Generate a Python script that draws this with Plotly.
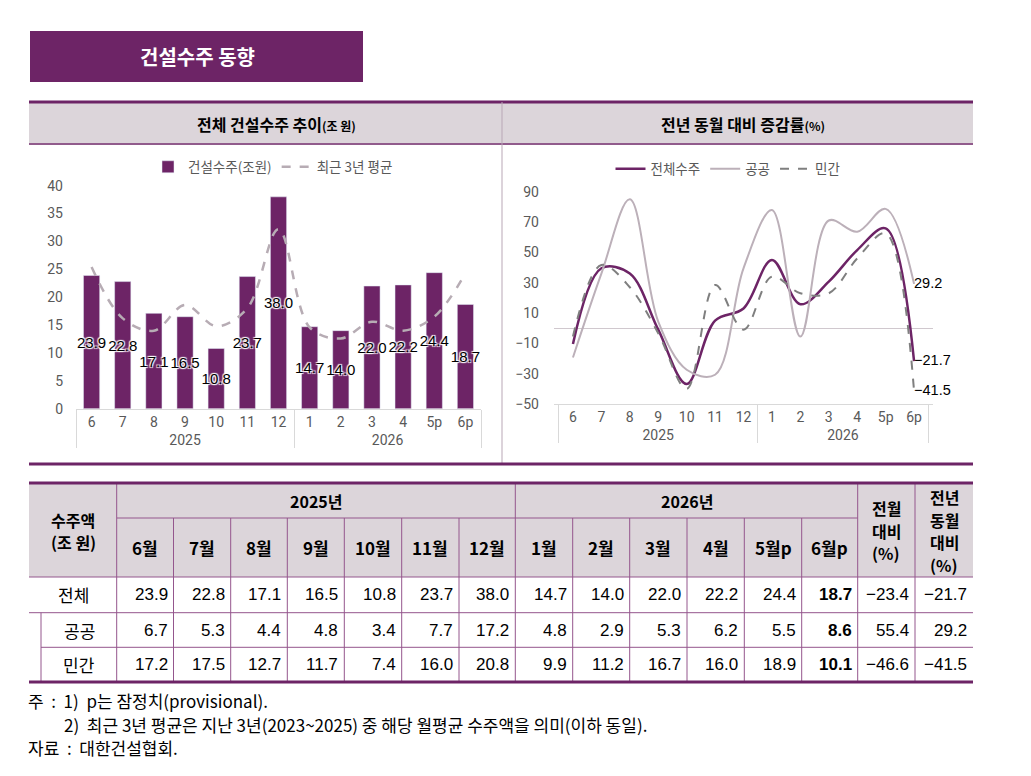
import plotly.graph_objects as go

# --- chart data ---
years = ['2025'] * 7 + ['2026'] * 6
months = ['6', '7', '8', '9', '10', '11', '12', '1', '2', '3', '4', '5p', '6p']

total = [23.9, 22.8, 17.1, 16.5, 10.8, 23.7, 38.0, 14.7, 14.0, 22.0, 22.2, 24.4, 18.7]
avg_3y = [25.4, 16.2, 14.0, 18.6, 14.8, 18.0, 32.2, 14.6, 12.6, 15.6, 14.0, 16.5, 24.3]

yoy_total = [-10.5, 39.5, 36.0, -1.0, -36.8, 5.0, 13.0, 45.0, 15.8, 30.7, 51.5, 65.8, -21.7]
yoy_public = [-19.3, 36.0, 85.0, 4.4, -27.4, -30.7, 39.5, 78.0, -5.5, 71.0, 63.6, 78.7, 29.2]
yoy_private = [-5.5, 41.7, 27.0, -3.3, -40.0, 28.5, -1.0, 34.0, 23.0, 23.0, 46.0, 62.5, -41.5]

# --- table data ---
table_months_2025 = ['6월', '7월', '8월', '9월', '10월', '11월', '12월']
table_months_2026 = ['1월', '2월', '3월', '4월', '5월p', '6월p']
row_labels = ['전체', '공공', '민간']
public = [6.7, 5.3, 4.4, 4.8, 3.4, 7.7, 17.2, 4.8, 2.9, 5.3, 6.2, 5.5, 8.6]
private = [17.2, 17.5, 12.7, 11.7, 7.4, 16.0, 20.8, 9.9, 11.2, 16.7, 16.0, 18.9, 10.1]
mom_change = [-23.4, 55.4, -46.6]
yoy_change = [-21.7, 29.2, -41.5]

W, H = 1031, 776
OX, OY = 8, 8  # page offset of the plot div
PURPLE = '#6d2466'
HEADER_BG = '#dcd5da'
GRID = '#94568d'
KR = 'Noto Sans CJK KR'
NUM = 'Liberation Sans, Noto Sans CJK KR'
SP = '\u00a0'


def px(x):
    return (x - OX) / W


def py(y):
    return 1 - (y - OY) / H


def fmt(v):
    return f'{v:.1f}'.replace('-', '\u2212')


fig = go.Figure()

# left chart: bars + 3-year average
fig.add_trace(go.Bar(
    x=[years, months], y=total, name='건설수주(조원)',
    marker_color=PURPLE, texttemplate='%{y:.1f}', textposition='inside',
    insidetextanchor='middle', textangle=0, constraintext='none',
    textfont=dict(color='black', size=15, family=NUM,
                  shadow='1px 1px 1px white, -1px -1px 1px white, 1px -1px 1px white, -1px 1px 1px white'),
    xaxis='x', yaxis='y', legend='legend'))
fig.add_trace(go.Scatter(
    x=[years, months], y=avg_3y, name='최근 3년 평균', mode='lines',
    line=dict(color='#b7acb4', width=2.5, dash='dash', shape='spline'),
    xaxis='x', yaxis='y', legend='legend'))

# right chart: yoy change lines
series = [
    ('전체수주', yoy_total, dict(color=PURPLE, width=2.5, shape='spline')),
    ('공공', yoy_public, dict(color='#bcb0b9', width=2, shape='spline')),
    ('민간', yoy_private, dict(color='#7f7f7f', width=2, dash='dash', shape='spline')),
]
for name, vals, line in series:
    labels = [''] * (len(vals) - 1) + [fmt(vals[-1])]
    fig.add_trace(go.Scatter(
        x=[years, months], y=vals, name=name, mode='lines+text',
        text=labels, textposition='middle right', cliponaxis=False,
        textfont=dict(color='black', size=14.5, family=NUM),
        line=line, xaxis='x2', yaxis='y2', legend='legend2'))

axis_font = dict(size=14, color='#595959', family='Roboto, ' + KR)
xaxis_common = dict(type='multicategory', showline=True, linecolor='#d9d9d9',
                    dividercolor='#d9d9d9', dividerwidth=1, tickfont=axis_font,
                    showgrid=False, ticks='')
fig.update_layout(
    width=W, height=H, margin=dict(l=0, r=0, t=0, b=0, autoexpand=False),
    paper_bgcolor='white', plot_bgcolor='white',
    font=dict(family=KR, color='black'),
    bargap=0.48,
    xaxis=dict(domain=[px(76), px(481)], anchor='y', **xaxis_common),
    yaxis=dict(domain=[py(408.7), py(185.7)], anchor='x', range=[0, 40], dtick=5,
               showgrid=False, zeroline=False, tickfont=axis_font, ticklabelstandoff=12),
    xaxis2=dict(domain=[px(554), px(933)], anchor='y2', **xaxis_common),
    yaxis2=dict(domain=[py(404), py(191.7)], anchor='x2', range=[-50, 90], tick0=-50, dtick=20,
                showgrid=False, zeroline=True, zerolinecolor='#d0c8ce', zerolinewidth=1,
                tickfont=axis_font, ticklabelstandoff=14),
    legend=dict(orientation='h', x=px(273), xanchor='center', y=py(167), yanchor='middle',
                font=dict(size=13.5, color='#595959'), bgcolor='rgba(0,0,0,0)'),
    legend2=dict(orientation='h', x=px(728), xanchor='center', y=py(169), yanchor='middle',
                 font=dict(size=13.5, color='#595959'), bgcolor='rgba(0,0,0,0)'),
)

shapes = []
annots = []


def rect(x0, y0, x1, y1, color):
    shapes.append(dict(type='rect', xref='paper', yref='paper', x0=px(x0), x1=px(x1),
                       y0=py(y1), y1=py(y0), fillcolor=color, line=dict(width=0), layer='below'))


def hline(x0, x1, y, color=GRID, width=1):
    shapes.append(dict(type='line', xref='paper', yref='paper', x0=px(x0), x1=px(x1),
                       y0=py(y), y1=py(y), line=dict(color=color, width=width)))


def vline(x, y0, y1, color=GRID, width=1):
    shapes.append(dict(type='line', xref='paper', yref='paper', x0=px(x), x1=px(x),
                       y0=py(y0), y1=py(y1), line=dict(color=color, width=width)))


def text(x, y, s, size=16, anchor='center', color='black', family=KR):
    annots.append(dict(xref='paper', yref='paper', x=px(x), y=py(y), text=s, showarrow=False,
                       xanchor=anchor, yanchor='middle',
                       font=dict(size=size, color=color, family=family)))


def stacked(x, ys, lines, size=16):
    for y, s in zip(ys, lines):
        text(x, y, '<b>' + s + '</b>', size=size)


# title box
rect(30, 31, 363, 82, PURPLE)
text(197, 56, '<b>건설수주 동향</b>', size=20, color='white')

# chart header band
rect(29, 102, 973, 143, HEADER_BG)
hline(29, 973, 102, PURPLE, 3)
hline(29, 973, 144, PURPLE, 1.5)
vline(502, 102, 463, '#b9a7b6', 1)
hline(29, 973, 464, PURPLE, 3)
text(276, 124, '<b>전체 건설수주 추이</b><span style="font-size:12px"><b>(조 원)</b></span>', size=16)
text(743, 124, '<b>전년 동월 대비 증감률</b><span style="font-size:12px"><b>(%)</b></span>', size=16)

# table
col_x = [116.7, 173.5, 230.7, 287.3, 344.3, 401.7, 459, 515.3, 572.7, 629.7, 687,
         744.3, 801.7, 857.7, 915, 973]
row_y = [483, 518, 577, 612.7, 647.3, 682]
rect(29, 483, 973, 577, HEADER_BG)
hline(117, 857.7, 518)
hline(29, 973, 577)
hline(29, 973, 612.7)
hline(41, 973, 647.3)
vline(41, 612.7, 682)
for i, x in enumerate(col_x[:-1]):
    if i in (0, 7, 13, 14):
        vline(x, 483, 682)
    else:
        vline(x, 518, 682)
hline(29, 973, 483, PURPLE, 3)
hline(29, 973, 682, PURPLE, 3)

stacked(73, [520, 542], ['수주액', '(조' + SP + '원)'])
text((col_x[0] + col_x[7]) / 2, 500.5, '<b>2025년</b>', size=16)
text((col_x[7] + col_x[13]) / 2, 500.5, '<b>2026년</b>', size=16)
for i, m in enumerate(table_months_2025 + table_months_2026):
    text((col_x[i] + col_x[i + 1]) / 2, 547.5, '<b>' + m + '</b>', size=17)
stacked(886, [508, 530.5, 553], ['전월', '대비', '(%)'])
stacked(944, [497, 519.5, 542, 565], ['전년', '동월', '대비', '(%)'])

row_vals = [total, public, private]
row_mid = [(row_y[2] + row_y[3]) / 2, (row_y[3] + row_y[4]) / 2, (row_y[4] + row_y[5]) / 2]
label_x = [73, 79, 79]
for r in range(3):
    text(label_x[r], row_mid[r], row_labels[r], size=17)
    vals = row_vals[r] + [mom_change[r], yoy_change[r]]
    for c, v in enumerate(vals):
        s = fmt(v)
        if c == 12:
            s = '<b>' + s + '</b>'
        text(col_x[c + 1] - 4, row_mid[r], s, size=17, anchor='right', family=NUM)

# notes
D = SP * 2
text(26, 700, '주' + D + ':' + D + '1)' + D + 'p는 잠정치(provisional).', size=17, anchor='left')
text(62, 724, '2)' + D + '최근 3년 평균은 지난 3년(2023~2025) 중 해당 월평균 수주액을 의미(이하 동일).',
     size=17, anchor='left')
text(26, 747, '자료' + D + ':' + D + '대한건설협회.', size=17, anchor='left')

fig.update_layout(shapes=shapes, annotations=annots)
fig.write_html('out.html')
